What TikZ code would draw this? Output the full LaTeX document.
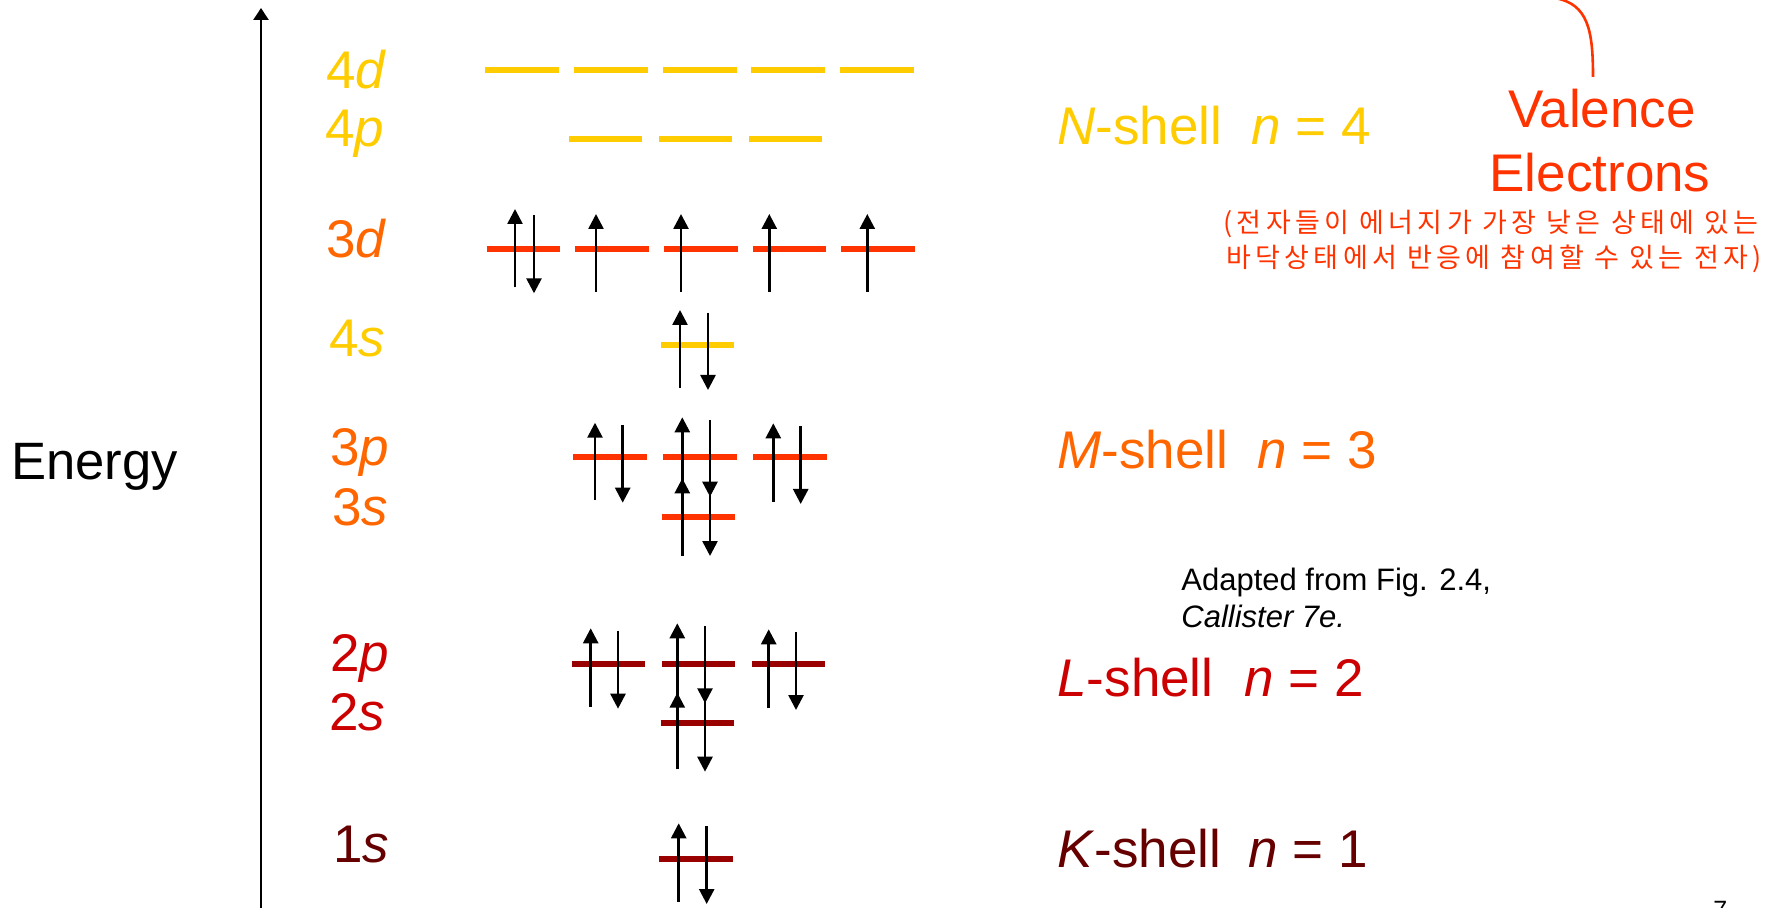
\documentclass[tikz,border=0pt]{standalone}
\usepackage{fontspec}
\setmainfont{Liberation Sans}
\newfontfamily\krfont[LetterSpace=16]{Noto Sans CJK KR}
\usetikzlibrary{arrows.meta}
\definecolor{gold}{HTML}{FFCC00}
\definecolor{redor}{HTML}{FF3300}
\definecolor{dkred}{HTML}{990000}
\definecolor{orangeT}{HTML}{FF6600}
\definecolor{redT}{HTML}{CC0000}
\definecolor{brownT}{HTML}{660000}
\tikzset{
  lvgold/.style={draw=gold, line width=3pt},
  lvred/.style={draw=redor, line width=3pt},
  lvdark/.style={draw=dkred, line width=3pt},
  spin/.style={draw=black, line width=1.3pt, -{Triangle[width=7.5pt,length=7.5pt]}},
  lbl/.style={anchor=base west, inner sep=0pt, font=\fontsize{26.5pt}{30pt}\selectfont},
  shell/.style={anchor=base west, inner sep=0pt, font=\fontsize{26.5pt}{30pt}\selectfont},
  small/.style={anchor=base west, inner sep=0pt, font=\fontsize{15.5pt}{18pt}\selectfont},
  kr/.style={anchor=base, inner sep=0pt, text=redor, font=\krfont\fontsize{13.5pt}{16pt}\selectfont},
  big/.style={anchor=base, inner sep=0pt, text=redor, font=\fontsize{26.5pt}{30pt}\selectfont}
}
\begin{document}
\begin{tikzpicture}[x=0.5pt,y=-0.5pt]
\useasboundingbox (0,0) rectangle (1781,908);
% energy axis
\coordinate (axb) at (261,912);
\coordinate (axt) at (261,8);
\draw[line width=1.25pt, -{Triangle[width=7.5pt,length=6pt]}] (axb) -- (axt);
\node[anchor=base west, inner sep=0pt, font=\fontsize{26.3pt}{30pt}\selectfont] (energy) at (11,480) {Energy};
% level labels
\node[lbl, text=gold] (l4d) at (326,88.5) {4\textit{d}};
\node[lbl, text=gold] (l4p) at (325,146.5) {4\textit{p}};
\node[lbl, text=orangeT] (l3d) at (326,257.5) {3\textit{d}};
\node[lbl, text=gold] (l4s) at (329,356.5) {4\textit{s}};
\node[lbl, text=orangeT] (l3p) at (330,466) {3\textit{p}};
\node[lbl, text=orangeT] (l3s) at (332,525) {3\textit{s}};
\node[lbl, text=redT] (l2p) at (330,671) {2\textit{p}};
\node[lbl, text=redT] (l2s) at (329,730) {2\textit{s}};
\node[lbl, text=brownT] (l1s) at (333,862) {1\textit{s}};
% 4d
\foreach \x in {485,574,663,751,840} \draw[lvgold] (\x,70.3) -- ++(73.5,0);
% 4p
\foreach \x in {569,659,749} \draw[lvgold] (\x,138.7) -- ++(73.2,0);
% 3d
\foreach \x in {486.7,575,664,752.7,841} \draw[lvred] (\x,248.7) -- ++(73.5,0);
\draw[spin] (515,287.3) -- (515,209);
\draw[spin] (534,215) -- (534,293.3);
\foreach \x in {596,681,769.3,867.3} \draw[spin] (\x,291.7) -- (\x,214);
% 4s
\draw[lvgold] (660.7,345) -- ++(73.3,0);
\draw[spin] (680,388) -- (680,310);
\draw[spin] (708,312.7) -- (708,390);
% 3p
\foreach \x in {573.3,663.3,753.3} \draw[lvred] (\x,457) -- ++(73.4,0);
\draw[spin] (595,500) -- (595,422.7);
\draw[spin] (622.7,425) -- (622.7,502.7);
\draw[spin] (682.3,495) -- (682.3,417.3);
\draw[spin] (710,420) -- (710,496.7);
\draw[spin] (773.3,501.7) -- (773.3,423.3);
\draw[spin] (800.7,426) -- (800.7,504);
% 3s
\draw[lvred] (662,517.3) -- ++(73.3,0);
\draw[spin] (682.3,556) -- (682.3,478.3);
\draw[spin] (710,478) -- (710,556);
% 2p
\foreach \x in {572,662,752} \draw[lvdark] (\x,663.7) -- ++(73.3,0);
\draw[spin] (590.7,706.7) -- (590.7,628.3);
\draw[spin] (618,630.7) -- (618,708.7);
\draw[spin] (677.3,701) -- (677.3,623.3);
\draw[spin] (705,626) -- (705,703.3);
\draw[spin] (768.7,708.3) -- (768.7,629.3);
\draw[spin] (796,632) -- (796,710);
% 2s
\draw[lvdark] (660.7,722.7) -- ++(73.3,0);
\draw[spin] (677.3,769.3) -- (677.3,692.7);
\draw[spin] (705,694) -- (705,771.7);
% 1s
\draw[lvdark] (659.3,858.7) -- ++(73.4,0);
\draw[spin] (678.7,901.7) -- (678.7,823.3);
\draw[spin] (706.7,826) -- (706.7,904);
% shell labels
\node[shell, text=gold] (nsh) at (1057,145) {\textit{N}-shell\hspace{14.5pt}\textit{n} = 4};
\node[shell, text=orangeT] (msh) at (1057,469) {\textit{M}-shell\hspace{14.5pt}\textit{n} = 3};
\node[shell, text=redT] (lsh) at (1057,696) {\textit{L}-shell\hspace{15.5pt}\textit{n} = 2};
\node[shell, text=brownT] (ksh) at (1057,867) {\textit{K}-shell\hspace{13.7pt}\textit{n} = 1};
% source
\node[small] (src1) at (1181,590) {Adapted from Fig. 2.4,};
\node[small] (src2) at (1181,627) {\textit{Callister 7e.}};
% valence electrons
\coordinate (c0) at (1555,-2);
\coordinate (c1) at (1593,77);
\draw[redor, line width=1.3pt] (c0) .. controls (1588,4) and (1593,30) .. (c1);
\node[big] (val) at (1602,128) {Valence};
\node[big] (ele) at (1600,192) {Electrons};
\node[kr] (kr1) at (1491,233) {(전자들이 에너지가 가장 낮은 상태에 있는};
\node[kr] (kr2) at (1494,268) {바닥상태에서 반응에 참여할 수 있는 전자)};
% page number
\node[anchor=base west, inner sep=0pt, font=\fontsize{12.5pt}{15pt}\selectfont] (pg) at (1713,918) {7};
\end{tikzpicture}
\end{document}
